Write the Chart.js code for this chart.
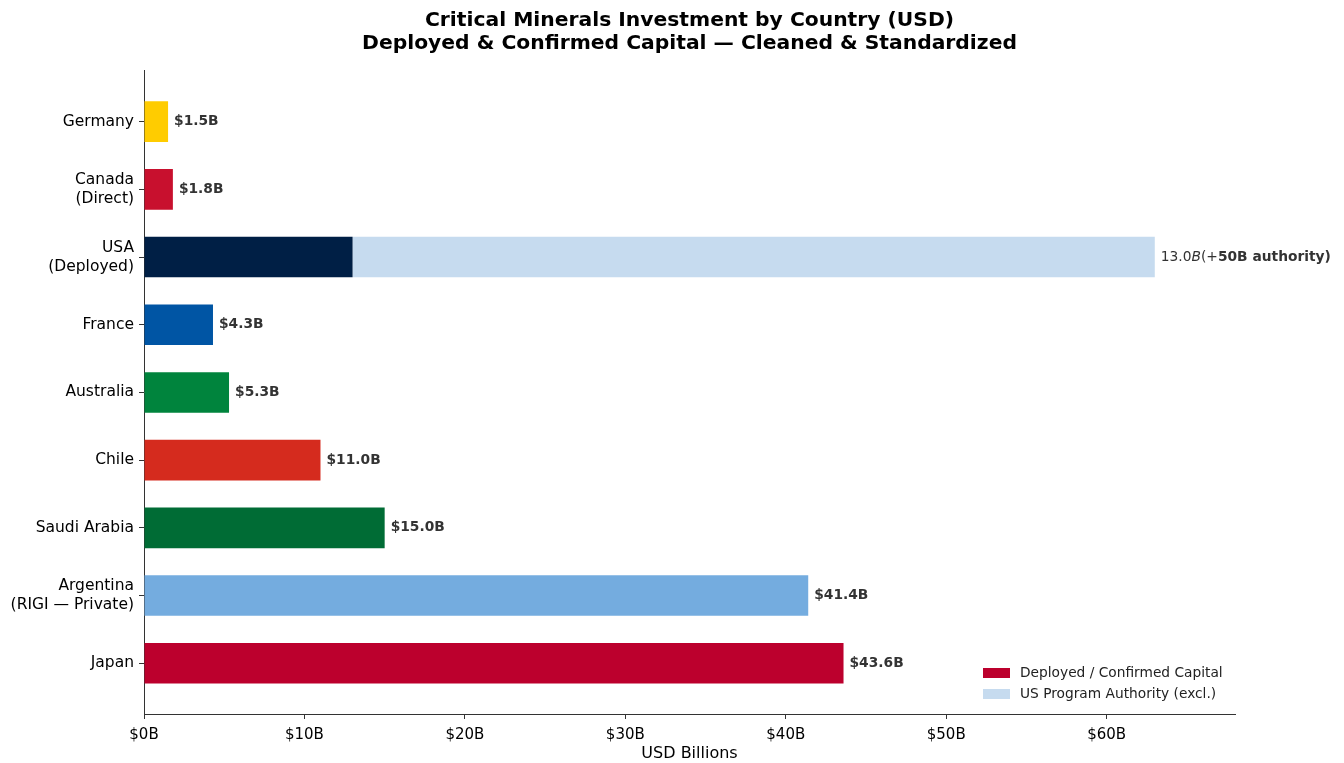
<!DOCTYPE html>
<html lang="en">
<head>
  <meta charset="UTF-8" />
  <title>Critical Minerals Investment by Country</title>
  <script src="https://cdn.jsdelivr.net/npm/chart.js"></script>
  <style>
    html, body { margin: 0; padding: 0; background: #fff; }
    #wrap { width: 1344px; height: 763px; }
  </style>
</head>
<body>
  <div id="wrap"><canvas id="grafico" width="1344" height="763"></canvas></div>

  <script>
    // top to bottom
    const countries = [
      ['Germany'],
      ['Canada', '(Direct)'],
      ['USA', '(Deployed)'],
      ['France'],
      ['Australia'],
      ['Chile'],
      ['Saudi Arabia'],
      ['Argentina', '(RIGI — Private)'],
      ['Japan']
    ];
    const deployed = [1.5, 1.8, 13.0, 4.3, 5.3, 11.0, 15.0, 41.4, 43.6];
    const barColors = ['#FFCC00', '#C8102E', '#001F45', '#0055A4', '#00843D',
                       '#D52B1E', '#006C35', '#74ACDF', '#BC002D'];
    const usIndex = 2;
    const usAuthority = 50;
    const xTicks = [0, 10, 20, 30, 40, 50, 60];

    const FONT = "'DejaVu Sans', sans-serif";
    const LABEL_SIZE = 13.8;

    // value text at the end of each bar
    const valueLabels = {
      id: 'valueLabels',
      afterDatasetsDraw(chart) {
        const ctx = chart.ctx;
        const bars = chart.getDatasetMeta(0).data;
        ctx.save();
        ctx.fillStyle = '#333';
        ctx.textBaseline = 'middle';
        ctx.textAlign = 'left';
        bars.forEach((bar, i) => {
          if (i === usIndex) return;
          ctx.font = `bold ${LABEL_SIZE}px ${FONT}`;
          ctx.fillText('$' + deployed[i].toFixed(1) + 'B', bar.x + 6, bar.y);
        });
        // USA: deployed + authority, mixed styles
        const ext = chart.getDatasetMeta(1).data[0];
        let x = ext.x + 6;
        const parts = [
          ['13.0', `${LABEL_SIZE}px ${FONT}`],
          ['B', `italic ${LABEL_SIZE}px ${FONT}`],
          ['(+', `${LABEL_SIZE}px ${FONT}`],
          ['50B authority)', `bold ${LABEL_SIZE}px ${FONT}`]
        ];
        parts.forEach(([t, f]) => {
          ctx.font = f;
          ctx.fillText(t, x, ext.y);
          x += ctx.measureText(t).width;
        });
        ctx.restore();
      }
    };

    // legend in the lower right corner of the plot
    const innerLegend = {
      id: 'innerLegend',
      afterDraw(chart) {
        const ctx = chart.ctx;
        const a = chart.chartArea;
        const items = [
          ['Deployed / Confirmed Capital', '#BC002D'],
          ['US Program Authority (excl.)', '#C6DBEF']
        ];
        ctx.save();
        ctx.font = `13.75px ${FONT}`;
        ctx.textBaseline = 'middle';
        items.forEach(([label, color], i) => {
          const y = a.bottom - 41 + i * 21;
          ctx.fillStyle = color;
          ctx.fillRect(a.right - 252, y - 5, 27, 10);
          ctx.fillStyle = '#222';
          ctx.fillText(label, a.right - 215, y);
        });
        ctx.restore();
      }
    };

    new Chart(document.getElementById('grafico'), {
      type: 'bar',
      data: {
        datasets: [
          {
            label: 'Deployed / Confirmed Capital',
            data: deployed.map((v, i) => ({ x: v, y: i })),
            backgroundColor: barColors,
            borderWidth: 0,
            barPercentage: 0.6,
            categoryPercentage: 1.0
          },
          {
            label: 'US Program Authority (excl.)',
            data: [{ x: usAuthority, y: usIndex }],
            backgroundColor: '#C6DBEF',
            borderWidth: 0,
            barPercentage: 0.6,
            categoryPercentage: 1.0
          }
        ]
      },
      options: {
        indexAxis: 'y',
        responsive: false,
        animation: false,
        layout: { padding: { left: 0, right: 109, top: 0, bottom: 0 } },
        plugins: {
          legend: { display: false },
          tooltip: { enabled: false },
          title: {
            display: true,
            fullSize: false,
            text: ['Critical Minerals Investment by Country (USD)',
                   'Deployed & Confirmed Capital — Cleaned & Standardized'],
            color: '#000',
            font: { family: FONT, size: 20.3, weight: 'bold', lineHeight: 1.13 },
            padding: { top: 9, bottom: 16 }
          }
        },
        scales: {
          x: {
            type: 'linear',
            stacked: true,
            min: 0,
            max: 68,
            afterBuildTicks: s => { s.ticks = xTicks.map(v => ({ value: v })); },
            afterFit: s => { s.height = 49; },
            ticks: {
              callback: v => '$' + v + 'B',
              color: '#000',
              font: { family: FONT, size: 15 },
              padding: 7,
              maxRotation: 0
            },
            grid: { display: true, drawOnChartArea: false, tickLength: 5, color: '#333' },
            border: { display: true, color: '#333', width: 1 },
            title: {
              display: true,
              text: 'USD Billions',
              color: '#000',
              font: { family: FONT, size: 16 },
              padding: { top: 0, bottom: 0 }
            }
          },
          y: {
            type: 'linear',
            stacked: true,
            reverse: true,
            offset: false,
            min: -0.75,
            max: 8.75,
            afterBuildTicks: s => { s.ticks = countries.map((_, i) => ({ value: i })); },
            afterFit: s => { s.width = 144; },
            ticks: {
              callback: v => countries[v],
              color: '#000',
              font: { family: FONT, size: 15.5, lineHeight: 1.23 },
              padding: 5
            },
            grid: { display: true, offset: false, drawOnChartArea: false, tickLength: 5, color: '#333' },
            border: { display: true, color: '#333', width: 1 }
          }
        }
      },
      plugins: [valueLabels, innerLegend]
    });
  </script>
</body>
</html>
